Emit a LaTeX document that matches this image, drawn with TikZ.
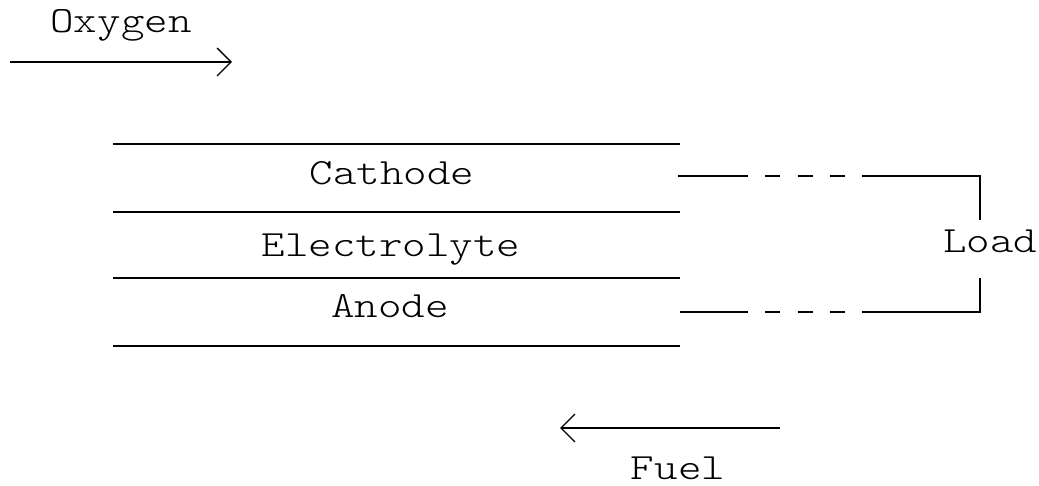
\documentclass[tikz,border=0pt]{standalone}
\usepackage{fontspec}
\newfontfamily\courfont{lmmonolt10-regular.otf}[FakeStretch=1.21]
\usetikzlibrary{arrows.meta}
\begin{document}
\begin{tikzpicture}[x=1pt,y=-1pt,line width=1.4pt,
  lbl/.style={font=\courfont\fontsize{37}{37}\selectfont,inner sep=0pt,anchor=base},
  flow/.style={-{Straight Barb[length=14pt,width=28pt,line width=1.4pt]}},
  wiredash/.style={dash pattern=on 15pt off 17.5pt}]
\useasboundingbox (0,0) rectangle (1039,486);
% layers
\coordinate (l0w) at (113,144); \coordinate (l0e) at (680,144);
\coordinate (l1w) at (113,212); \coordinate (l1e) at (680,212);
\coordinate (l2w) at (113,278); \coordinate (l2e) at (680,278);
\coordinate (l3w) at (113,346); \coordinate (l3e) at (680,346);
\draw (l0w) -- (l0e);
\draw (l1w) -- (l1e);
\draw (l2w) -- (l2e);
\draw (l3w) -- (l3e);
\node[lbl] (cathode) at (392,185) {Cathode};
\node[lbl] (electrolyte) at (391,257) {Electrolyte};
\node[lbl] (anode) at (390,318) {Anode};
% load circuit
\node[lbl] (load) at (990,253) {Load};
\coordinate (ta) at (678,176); \coordinate (tb) at (748,176);
\coordinate (tc) at (765,176); \coordinate (td) at (845,176);
\coordinate (te) at (862,176); \coordinate (tf) at (980,176);
\coordinate (tg) at (980,220);
\coordinate (ba) at (680,312); \coordinate (bb) at (748,312);
\coordinate (bc) at (765,312); \coordinate (bd) at (845,312);
\coordinate (be) at (862,312); \coordinate (bf) at (980,312);
\coordinate (bg) at (980,278);
\draw (ta) -- (tb);
\draw[wiredash] (tc) -- (td);
\draw (te) -- (tf) -- (tg);
\draw (ba) -- (bb);
\draw[wiredash] (bc) -- (bd);
\draw (be) -- (bf) -- (bg);
% flows
\node[lbl] (oxygen) at (121,33) {Oxygen};
\coordinate (ox0) at (10,62); \coordinate (ox1) at (232,62);
\draw[flow] (ox0) -- (ox1);
\node[lbl] (fuel) at (678,479) {Fuel};
\coordinate (fu0) at (780,428); \coordinate (fu1) at (560,428);
\draw[flow] (fu0) -- (fu1);
\end{tikzpicture}
\end{document}
